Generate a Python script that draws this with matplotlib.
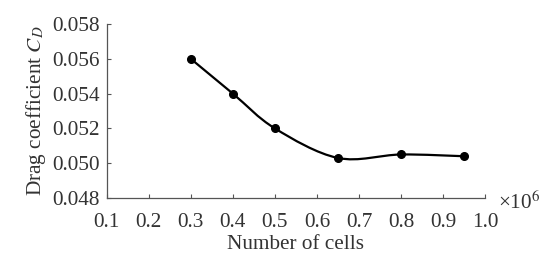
import numpy as np
import matplotlib
matplotlib.use("Agg")
import matplotlib.pyplot as plt
from matplotlib.path import Path
from matplotlib.patches import PathPatch

# data
cells = [0.30, 0.40, 0.50, 0.65, 0.80, 0.95]   # x 10^6
cd = [0.0560, 0.0540, 0.0520, 0.0503, 0.0505, 0.0504]
xticks = [0.1, 0.2, 0.3, 0.4, 0.5, 0.6, 0.7, 0.8, 0.9, 1.0]
yticks = [0.048, 0.050, 0.052, 0.054, 0.056, 0.058]

plt.rcParams['font.family'] = ['Liberation Serif', 'DejaVu Serif']
plt.rcParams['mathtext.fontset'] = 'stix'

fig = plt.figure(figsize=(5.45, 2.65), dpi=100)
ax = fig.add_axes([0.196, 0.253, 0.694, 0.656])

# smooth curve through the points (catmull-rom -> bezier)
x = np.array(cells)
y = np.array(cd)
verts = [(x[0], y[0])]
codes = [Path.MOVETO]
for i in range(len(x) - 1):
    p0 = (x[max(i - 1, 0)], y[max(i - 1, 0)])
    p1 = (x[i], y[i])
    p2 = (x[i + 1], y[i + 1])
    p3 = (x[min(i + 2, len(x) - 1)], y[min(i + 2, len(x) - 1)])
    c1 = (p1[0] + (p2[0] - p0[0]) / 6, p1[1] + (p2[1] - p0[1]) / 6)
    c2 = (p2[0] - (p3[0] - p1[0]) / 6, p2[1] - (p3[1] - p1[1]) / 6)
    verts += [c1, c2, p2]
    codes += [Path.CURVE4] * 3
ax.add_patch(PathPatch(Path(verts, codes), fill=False, lw=1.6, color='black'))
ax.plot(cells, cd, 'o', color='black', markersize=5.5)

ax.set_xlim(0.1, 1.0)
ax.set_ylim(0.048, 0.058)
ax.set_xticks(xticks)
ax.set_xticklabels(['%.1f' % v for v in xticks])
ax.set_yticks(yticks)
ax.set_yticklabels(['%.3f' % v for v in yticks])
ax.tick_params(direction='in', length=3, width=0.8, colors='#555555',
               labelsize=15.3, labelcolor='#333333')
ax.tick_params(axis='x', pad=11)
ax.tick_params(axis='y', pad=5)
for s in ['top', 'right']:
    ax.spines[s].set_visible(False)
for s in ['left', 'bottom']:
    ax.spines[s].set_color('#555555')
    ax.spines[s].set_linewidth(0.9)

ax.set_xlabel('Number of cells', fontsize=15.3, color='#333333', labelpad=2)
ax.set_ylabel('Drag coefficient $C_D$', fontsize=15.3, color='#333333', labelpad=3)
ax.text(1.034, -0.03, '×10$^6$', transform=ax.transAxes, fontsize=15.3,
        color='#333333', va='center', ha='left')

fig.savefig('out.png', dpi=100)
